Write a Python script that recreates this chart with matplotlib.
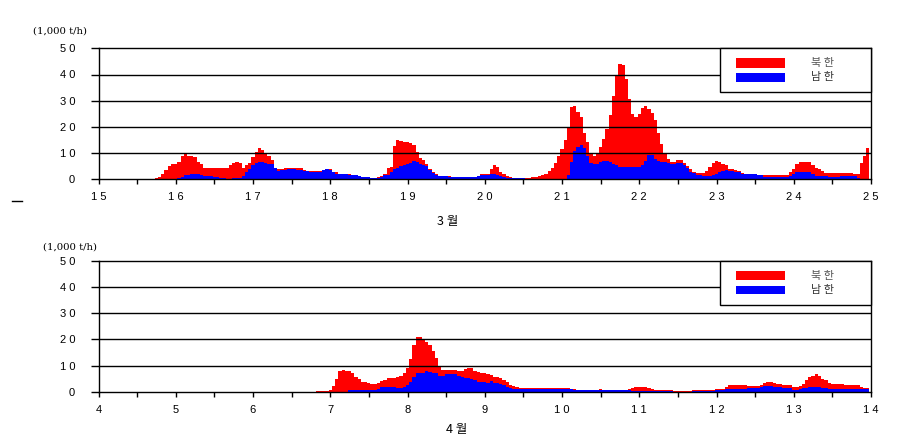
import numpy as np
import matplotlib
matplotlib.use("Agg")
import matplotlib.pyplot as plt
from matplotlib.patches import Rectangle
from matplotlib.lines import Line2D

plt.rcParams['font.family'] = ['Liberation Sans', 'Noto Sans CJK KR', 'DejaVu Sans']

# ---------------- data (1,000 t/h, hourly) ----------------
march_ticks = ['1 5', '1 6', '1 7', '1 8', '1 9', '2 0', '2 1', '2 2', '2 3', '2 4', '2 5']
april_ticks = ['4', '5', '6', '7', '8', '9', '1 0', '1 1', '1 2', '1 3', '1 4']
y_ticks = ['0', '1 0', '2 0', '3 0', '4 0', '5 0']
legend_labels = ['북 한', '남 한']
month_labels = ['3 월', '4 월']
unit_label = '(1,000 t/h)'

march_north = [
    0, 0, 0, 0, 0, 0, 0, 0, 0, 0, 0, 0, 0, 0, 0, 0, 0, 0, 0.5, 0.9, 1.9, 3.6, 4.9, 5.8,
    5.9, 6.7, 9.0, 10.0, 9.0, 8.8, 8.7, 6.7, 5.8, 4.5, 4.5, 4.5, 4.5, 4.2, 4.5, 4.5, 4.5, 5.5, 6.2, 6.5, 6.2, 4.5, 5.6, 6.2,
    8.5, 10.5, 11.9, 11.0, 9.7, 9.0, 7.2, 4.5, 4.0, 4.0, 4.2, 4.4, 4.4, 4.4, 4.2, 4.2, 3.5, 3.3, 3.1, 3.1, 3.1, 3.1, 3.3, 3.8,
    4.0, 2.9, 2.7, 2.2, 2.2, 2.2, 2.1, 1.8, 1.8, 1.4, 0.9, 0.9, 0.9, 0.5, 0.6, 0.9, 1.3, 2.2, 4.5, 4.6, 12.8, 15.1, 14.7, 14.1,
    14.1, 13.7, 13.1, 10.5, 8.3, 7.2, 5.8, 4.0, 2.6, 2.1, 1.4, 1.4, 1.4, 1.3, 0.9, 0.9, 0.9, 0.9, 0.9, 0.9, 0.9, 0.9, 1.4, 1.9,
    2.2, 2.2, 4.0, 5.6, 4.6, 2.9, 2.1, 1.2, 0.8, 0.5, 0.5, 0.5, 0.5, 0.5, 0.5, 0.7, 1.0, 1.4, 1.7, 2.0, 3.2, 4.2, 6.4, 8.9,
    11.6, 15.0, 20.1, 27.7, 28.0, 25.8, 23.7, 17.7, 14.1, 9.9, 8.9, 9.9, 12.3, 15.5, 19.2, 24.6, 31.9, 39.4, 44.0, 43.6, 38.3, 30.8, 24.9, 23.8,
    24.9, 27.2, 28.0, 27.0, 25.4, 22.6, 17.8, 13.5, 9.7, 7.8, 6.7, 6.5, 7.2, 7.2, 6.2, 5.0, 4.0, 2.9, 2.4, 2.4, 2.4, 3.2, 4.6, 6.2,
    7.0, 6.5, 5.8, 5.5, 4.0, 3.8, 3.6, 3.2, 2.4, 2.0, 2.0, 2.0, 2.0, 1.5, 1.5, 1.7, 1.7, 1.7, 1.7, 1.7, 1.7, 1.7, 1.7, 2.9,
    4.0, 5.8, 6.7, 6.7, 6.7, 6.7, 5.5, 4.5, 4.0, 3.2, 2.4, 2.4, 2.4, 2.4, 2.4, 2.4, 2.4, 2.4, 2.4, 1.9, 1.9, 6.2, 9.0, 11.8,
]
march_south = [
    0, 0, 0, 0, 0, 0, 0, 0, 0, 0, 0, 0, 0, 0, 0, 0, 0, 0, 0, 0, 0, 0, 0, 0,
    0.2, 0.4, 0.8, 1.7, 1.7, 2.2, 2.2, 1.9, 1.5, 1.3, 1.3, 1.3, 1.0, 0.9, 0.5, 0.5, 0.1, 0.1, 0.5, 0.5, 0.5, 1.4, 2.7, 4.0,
    5.4, 6.4, 6.7, 6.7, 6.3, 6.0, 6.0, 4.5, 3.3, 3.6, 3.6, 3.8, 3.8, 3.8, 3.6, 3.6, 3.1, 3.1, 2.8, 2.8, 2.8, 2.8, 3.5, 3.8,
    3.7, 2.8, 2.2, 1.9, 1.9, 1.9, 1.8, 1.7, 1.7, 1.3, 0.8, 0.8, 0.8, 0.4, 0.5, 0.5, 1.0, 1.7, 1.7, 2.8, 3.8, 4.2, 4.9, 5.4,
    5.8, 6.3, 6.9, 6.5, 5.9, 5.6, 4.9, 3.6, 2.3, 1.7, 1.3, 1.3, 1.3, 0.9, 0.8, 0.8, 0.8, 0.8, 0.8, 0.8, 0.8, 0.8, 1.2, 1.5,
    1.7, 1.7, 2.2, 1.9, 1.7, 1.3, 0.8, 0.5, 0.4, 0.4, 0.4, 0.4, 0.4, 0.3, 0.3, 0.3, 0.2, 0.2, 0.2, 0.2, 0.2, 0.2, 0.2, 0.2,
    0.2, 0.2, 1.7, 6.5, 10.8, 12.3, 13.1, 11.8, 8.9, 6.4, 5.7, 5.9, 6.5, 7.0, 7.0, 6.5, 5.9, 5.5, 4.7, 4.7, 4.7, 4.7, 4.7, 4.7,
    4.7, 5.5, 7.0, 9.3, 9.3, 7.8, 7.0, 6.7, 6.5, 6.1, 5.7, 6.0, 6.4, 6.4, 5.5, 4.2, 2.9, 2.3, 1.7, 1.7, 1.3, 1.3, 1.3, 1.7,
    2.0, 2.6, 3.2, 3.7, 3.3, 3.2, 2.9, 2.7, 2.2, 1.9, 1.9, 1.9, 1.9, 1.5, 1.5, 0.9, 0.9, 0.9, 0.9, 0.9, 0.9, 0.9, 0.9, 1.3,
    1.9, 2.7, 2.8, 2.8, 2.8, 2.8, 1.9, 1.3, 1.2, 1.2, 1.2, 0.9, 0.9, 0.9, 0.9, 1.2, 1.2, 1.2, 1.2, 1.2, 0.6, 0.0, 0.0, 0.0,
]
april_north = [
    0, 0, 0, 0, 0, 0, 0, 0, 0, 0, 0, 0, 0, 0, 0, 0, 0, 0, 0, 0, 0, 0, 0, 0,
    0, 0, 0, 0, 0, 0, 0, 0, 0, 0, 0, 0, 0, 0, 0, 0, 0, 0, 0, 0, 0, 0, 0, 0,
    0, 0, 0, 0, 0, 0, 0, 0, 0, 0, 0, 0, 0, 0, 0, 0, 0, 0, 0, 0, 0.4, 0.4, 0.4, 0.4,
    0.8, 2.2, 4.9, 7.9, 8.2, 8.0, 7.8, 7.2, 5.7, 4.7, 3.8, 3.6, 3.2, 3.1, 2.9, 3.2, 4.1, 4.5, 5.1, 5.1, 5.1, 5.6, 6.0, 7.3,
    9.2, 12.4, 17.8, 20.8, 20.8, 20.1, 19.0, 17.9, 15.6, 12.8, 9.6, 8.3, 8.3, 8.3, 8.3, 8.3, 7.9, 7.9, 8.7, 9.1, 9.1, 8.0, 7.4, 7.3,
    7.0, 6.8, 6.3, 5.7, 5.5, 5.1, 4.5, 3.6, 2.6, 2.2, 1.7, 1.3, 1.3, 1.3, 1.3, 1.3, 1.4, 1.4, 1.4, 1.4, 1.4, 1.4, 1.4, 1.4,
    1.4, 1.4, 1.4, 1.1, 1.0, 0.6, 0.6, 0.6, 0.6, 0.6, 0.6, 0.6, 0.9, 0.6, 0.6, 0.6, 0.6, 0.6, 0.6, 0.6, 0.6, 1.0, 1.4, 1.8,
    1.8, 1.8, 1.8, 1.3, 0.9, 0.6, 0.6, 0.6, 0.6, 0.6, 0.6, 0.1, 0.1, 0.1, 0.1, 0.1, 0.1, 0.6, 0.6, 0.6, 0.6, 0.6, 0.6, 0.6,
    1.0, 1.0, 1.0, 1.8, 2.6, 2.6, 2.6, 2.6, 2.6, 2.6, 2.2, 2.2, 2.2, 2.2, 2.6, 3.2, 3.6, 3.6, 3.2, 2.9, 2.9, 2.6, 2.6, 2.6,
    1.9, 1.9, 2.2, 2.9, 4.6, 5.5, 5.9, 6.8, 5.9, 4.9, 4.5, 3.2, 2.9, 2.9, 2.9, 2.9, 2.4, 2.4, 2.4, 2.4, 2.4, 1.8, 1.4, 1.4,
]
april_south = [
    0, 0, 0, 0, 0, 0, 0, 0, 0, 0, 0, 0, 0, 0, 0, 0, 0, 0, 0, 0, 0, 0, 0, 0,
    0, 0, 0, 0, 0, 0, 0, 0, 0, 0, 0, 0, 0, 0, 0, 0, 0, 0, 0, 0, 0, 0, 0, 0,
    0, 0, 0, 0, 0, 0, 0, 0, 0, 0, 0, 0, 0, 0, 0, 0, 0, 0, 0, 0, 0, 0, 0, 0,
    0, 0, 0, 0, 0, 0, 0.5, 0.5, 0.5, 0.5, 0.5, 0.8, 0.8, 0.8, 0.8, 1.0, 1.8, 1.8, 1.8, 1.8, 1.8, 1.5, 1.5, 1.7,
    2.6, 3.8, 5.7, 7.0, 7.0, 7.3, 7.8, 7.5, 7.3, 7.0, 6.1, 6.1, 6.9, 6.9, 6.9, 6.6, 6.1, 5.6, 5.1, 5.1, 4.9, 4.5, 3.8, 3.8,
    3.8, 3.4, 4.1, 3.4, 3.2, 2.8, 2.4, 1.9, 1.3, 0.9, 0.9, 0.9, 0.9, 0.9, 0.9, 0.9, 1.0, 1.0, 1.0, 1.0, 1.0, 1.0, 1.0, 1.0,
    1.0, 1.0, 1.0, 1.0, 0.8, 0.6, 0.6, 0.6, 0.6, 0.6, 0.6, 0.6, 0.6, 0.6, 0.6, 0.6, 0.6, 0.6, 0.6, 0.6, 0.6, 0.6, 0.3, 0.3,
    0.3, 0.3, 0.3, 0.3, 0.3, 0.3, 0.3, 0.3, 0.3, 0.3, 0.3, 0.05, 0.05, 0.05, 0.05, 0.05, 0.05, 0.3, 0.3, 0.3, 0.3, 0.3, 0.3, 0.3,
    0.6, 0.6, 0.6, 1.0, 1.0, 1.0, 1.0, 1.0, 1.0, 1.0, 1.3, 1.3, 1.3, 1.3, 1.8, 2.3, 2.3, 2.3, 1.9, 1.8, 1.8, 1.3, 1.3, 1.3,
    0.6, 0.6, 1.0, 1.3, 1.3, 1.7, 1.7, 1.8, 1.8, 1.5, 1.3, 1.0, 1.0, 1.0, 1.0, 1.0, 1.0, 1.0, 1.0, 1.0, 1.0, 1.0, 1.0, 1.0,
]

RED = '#FF0000'
BLUE = '#0000FF'

fig = plt.figure(figsize=(9.19, 4.38), dpi=100)
ax1 = fig.add_axes([98.5 / 919, 1 - 179.3 / 438, 772.5 / 919, 131 / 438])
ax2 = fig.add_axes([98.5 / 919, 1 - 391.7 / 438, 772.5 / 919, 130.7 / 438])


def draw(ax, north, south, ticklabels):
    hours = np.arange(len(north))
    ax.bar(hours, north, width=1.0, color=RED, linewidth=0, zorder=2)
    ax.bar(hours, south, width=1.0, color=BLUE, linewidth=0, zorder=2.1)
    ax.set_xlim(0, len(north))
    ax.set_ylim(0, 50)
    for v in [10, 20, 30, 40]:
        ax.axhline(v, color='black', lw=1.0, zorder=3)
    for s in ax.spines.values():
        s.set_color('black')
        s.set_linewidth(1.0)
        s.set_zorder(4)
    ax.set_yticks([0, 10, 20, 30, 40, 50])
    ax.set_yticklabels(y_ticks)
    ax.set_xticks(np.arange(0, len(north) + 1, 24))
    ax.set_xticklabels(ticklabels)
    ax.set_xticks(np.arange(12, len(north), 24), minor=True)
    ax.tick_params(axis='y', length=5.8, width=1.0, pad=11, labelsize=8, colors='black')
    ax.tick_params(axis='x', which='both', length=3.5, width=1.0, pad=6, labelsize=8)
    # legend box
    ax.add_patch(Rectangle((0.8045, 0.664), 0.1955, 0.336, transform=ax.transAxes,
                           facecolor='white', edgecolor='black', lw=1.0, zorder=5, clip_on=False))
    ax.add_patch(Rectangle((0.825, 0.852), 0.0637, 0.072, transform=ax.transAxes,
                           facecolor=RED, edgecolor='none', zorder=6, clip_on=False))
    ax.add_patch(Rectangle((0.825, 0.745), 0.0637, 0.066, transform=ax.transAxes,
                           facecolor=BLUE, edgecolor='none', zorder=6, clip_on=False))
    ax.text(0.937, 0.888, legend_labels[0], transform=ax.transAxes, ha='center', va='center',
            fontsize=8, color='#555555', family=['Noto Sans CJK KR', 'DejaVu Sans'], zorder=7)
    ax.text(0.937, 0.778, legend_labels[1], transform=ax.transAxes, ha='center', va='center',
            fontsize=8, color='#333333', family=['Noto Sans CJK KR', 'DejaVu Sans'], zorder=7)


draw(ax1, march_north, march_south, march_ticks)
draw(ax2, april_north, april_south, april_ticks)

fig.text(448 / 919, 1 - 221 / 438, month_labels[0], ha='center', va='center', fontsize=9,
         family=['Noto Sans CJK KR', 'DejaVu Sans'])
fig.text(457 / 919, 1 - 430 / 438, month_labels[1], ha='center', va='center', fontsize=9,
         family=['Noto Sans CJK KR', 'DejaVu Sans'])
fig.text(33 / 919, 1 - 31 / 438, unit_label, ha='left', va='center', fontsize=7.3, family='DejaVu Serif')
fig.text(43 / 919, 1 - 247 / 438, unit_label, ha='left', va='center', fontsize=7.3, family='DejaVu Serif')
fig.add_artist(Line2D([12 / 919, 22 / 919], [1 - 201 / 438, 1 - 201 / 438], color='black', lw=1.0))

fig.savefig('out.png', dpi=100)
